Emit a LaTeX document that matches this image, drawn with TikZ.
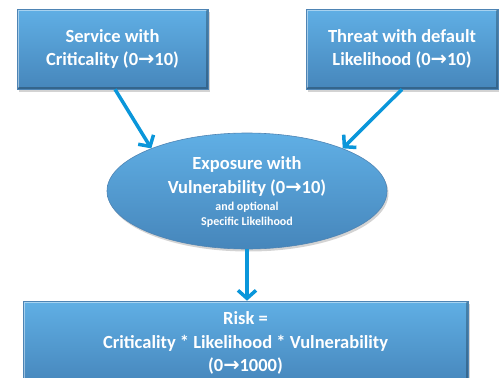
\documentclass[tikz,border=0pt]{standalone}
\usepackage{fontspec}
\setmainfont{Carlito}
\newfontfamily\symfont{DejaVu Sans}
\usetikzlibrary{shapes.geometric,arrows.meta,shadows}

\definecolor{boxtop}{RGB}{96,175,229}
\definecolor{boxbot}{RGB}{70,134,187}
\definecolor{boxline}{RGB}{78,132,180}
\definecolor{flow}{RGB}{10,150,218}

% bold right arrow used inside the ranges
\newcommand{\upto}{{\symfont\bfseries\fontsize{19.5}{23.5}\selectfont →}}
\newcommand{\smalltext}{\fontsize{12}{14}\selectfont}

\tikzset{
  panel/.style={
    draw=boxline, line width=0.6pt,
    top color=boxtop, bottom color=boxbot,
    drop shadow={opacity=0.35, shadow xshift=1.5pt, shadow yshift=-2.5pt},
    text=white, align=center, inner sep=0pt,
    font=\bfseries\fontsize{18.5}{23.5}\selectfont},
  stepbox/.style={panel, rectangle,
    % bevelled rim: light along the top and left, dark along the bottom
    path picture={
      \draw[white, opacity=0.45, line width=1.6pt]
        ([xshift=1.2pt,yshift=1.2pt]path picture bounding box.south west)
        -- ([xshift=1.2pt,yshift=-1.2pt]path picture bounding box.north west)
        -- ([xshift=-1.2pt,yshift=-1.2pt]path picture bounding box.north east);
      \draw[black, opacity=0.25, line width=1.6pt]
        ([xshift=1.2pt,yshift=1.2pt]path picture bounding box.south west)
        -- ([xshift=-1.2pt,yshift=1.2pt]path picture bounding box.south east)
        -- ([xshift=-1.2pt,yshift=-1.2pt]path picture bounding box.north east);
    }},
  hub/.style={panel, ellipse},
  flowarrow/.style={draw=flow, line width=3.5pt,
    -{Straight Barb[length=8pt,width=18pt,line width=3.5pt]}}
}

\begin{document}
\begin{tikzpicture}[x=1pt,y=-1pt]
  \useasboundingbox (0,0) rectangle (499,378);

  \node[stepbox, minimum width=191pt, minimum height=80pt] (svc) at (112.5,49)
    {Service with\\Criticality (0\upto10)};
  \node[stepbox, minimum width=192pt, minimum height=80pt] (thr) at (402,49)
    {Threat with default\\Likelihood (0\upto10)};

  \node[hub, minimum width=280pt, minimum height=116pt, text depth=0pt] (exp) at (247,191)
    {\raisebox{-6pt}{}Exposure with\\Vulnerability (0\upto10)\\[-6pt]
     \smalltext and optional\\[-9pt]\smalltext Specific Likelihood};

  \node[stepbox, minimum width=445pt, minimum height=84pt] (risk) at (245.5,343)
    {Risk =\\Criticality * Likelihood * Vulnerability\\(0\upto1000)};

  \draw[flowarrow] ([xshift=2.5pt]svc.south) -- (exp.156);
  \draw[flowarrow] (thr.south) -- (exp.24);
  \draw[flowarrow] (exp.south) -- (exp.south |- risk.north);
\end{tikzpicture}
\end{document}
